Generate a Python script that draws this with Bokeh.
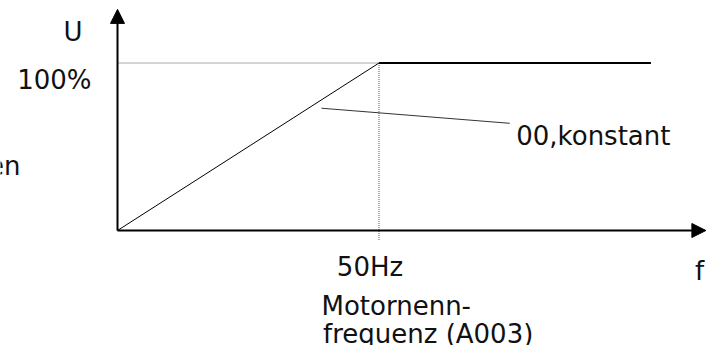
from bokeh.plotting import figure
from bokeh.models import Range1d, Arrow, NormalHead
from bokeh.core.properties import value
from bokeh.embed import file_html
from bokeh.resources import INLINE

# ---- data -------------------------------------------------------------
ramp_f = [0, 50]          # Hz  (0 -> motor rated frequency)
ramp_u = [0, 100]         # %
const_f = [50, 102]       # Hz  (constant voltage above rated frequency)
const_u = [100, 100]      # %
base_f = 50               # Hz, Motornennfrequenz
base_u = 100              # %
axis_f_end = 112.5        # Hz, end of f axis arrow
axis_u_end = 132          # %,  end of U axis arrow
leader_f = [39, 75]
leader_u = [73, 64]
dotted_bottom = -6

tick_u_label = "100%"
tick_f_label = "50Hz"
axis_u_label = "U"
axis_f_label = "f"
curve_label = "00,konstant"
base_label = ["Motornenn-", "frequenz (A003)"]
side_label = "en"

# ---- layout ------------------------------------------------------------
W, H = 712, 345
PX_X, PX_Y = 5.23, 1.675         # pixels per Hz / per %
ORIGIN_X, ORIGIN_Y = 117, 230    # canvas pixel position of (0, 0)

p = figure(width=W, height=H, output_backend="svg", toolbar_location=None,
           x_axis_location=None, y_axis_location=None,
           x_range=Range1d(-ORIGIN_X / PX_X, (W - ORIGIN_X) / PX_X),
           y_range=Range1d(-(H - ORIGIN_Y) / PX_Y, ORIGIN_Y / PX_Y),
           min_border=0, outline_line_color=None)
p.xgrid.visible = False
p.ygrid.visible = False
p.background_fill_color = "white"
p.border_fill_color = "white"

FONT = value("DejaVu Sans")
FS = "26px"
TXT = "#111111"

# dotted guide lines
p.line([0, base_f], [base_u, base_u], line_color="#555555", line_width=1, line_dash="1 1")
p.line([base_f, base_f], [base_u, dotted_bottom], line_color="#555555", line_width=1, line_dash="1 1")

# characteristic
p.line(ramp_f, ramp_u, line_color="black", line_width=1)
p.line(const_f, const_u, line_color="black", line_width=2.2)

# leader line
p.line(leader_f, leader_u, line_color="#333333", line_width=1)

# axes as arrows
p.add_layout(Arrow(x_start=0, y_start=0, x_end=axis_f_end, y_end=0,
                   line_color="black", line_width=2,
                   end=NormalHead(size=14, fill_color="black", line_color="black", line_width=1)))
p.add_layout(Arrow(x_start=0, y_start=0, x_end=0, y_end=axis_u_end,
                   line_color="black", line_width=2,
                   end=NormalHead(size=14, fill_color="black", line_color="black", line_width=1)))

def label(x, y, t, dx, dy, align="left"):
    p.text(x=[x], y=[y], text=[t], x_offset=dx, y_offset=dy,
           text_font=FONT, text_font_size=FS, text_color=TXT,
           text_align=align, text_baseline="alphabetic")

label(0, axis_u_end, axis_u_label, -54, 22.7)
label(0, base_u, tick_u_label, -26, 17, "right")
label(base_f, 0, tick_f_label, -9, 36.7, "center")
label(axis_f_end, 0, axis_f_label, -11, 40.7)
label(base_f, 0, base_label[0], -57.5, 75)
label(base_f, 0, base_label[1], -56, 103)
label(leader_f[1], leader_u[1], curve_label, 6.5, 13)
label(0, 0, side_label, -97, -65, "right")

open("out.html", "w").write(file_html(p, INLINE))
